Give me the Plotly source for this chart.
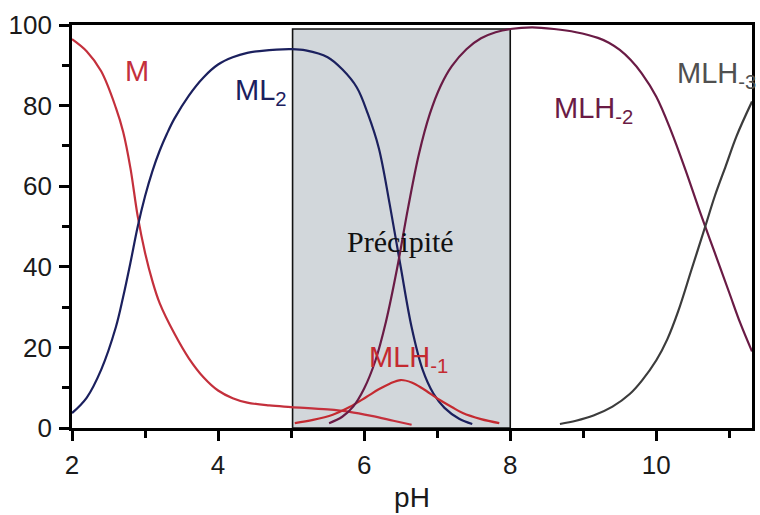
import plotly.graph_objects as go

# ---- data ----
ph_M = [2.0, 2.2, 2.4, 2.6, 2.7, 2.8, 2.9, 3.0, 3.1, 3.2, 3.4, 3.6, 3.8, 4.0, 4.2, 4.4, 4.7, 5.0, 5.5, 5.8, 6.1, 6.4, 6.65]
val_M = [96.5, 93.5, 88.5, 79.5, 73.5, 64.5, 52.5, 43.5, 36.5, 31, 23.5, 17.3, 12.6, 9.3, 7.4, 6.3, 5.6, 5.2, 4.6, 4.0, 3.0, 1.8, 0.8]

ph_ML2 = [2.0, 2.2, 2.4, 2.6, 2.7, 2.8, 2.9, 3.0, 3.1, 3.2, 3.3, 3.4, 3.6, 3.8, 4.0, 4.2, 4.4, 4.6, 4.8, 5.0, 5.2,
          5.5, 5.7, 5.9, 6.05, 6.2, 6.35, 6.5, 6.65, 6.8, 6.95, 7.1, 7.3, 7.48]
val_ML2 = [3.7, 7.5, 14.5, 25, 32.5, 41, 50, 57.5, 63.7, 68.8, 73, 76.7, 82.5, 87, 90.2, 92, 93.1, 93.6, 93.9, 94, 93.7,
           92, 89, 84.5, 78, 69.5, 55.5, 40, 25, 14.5, 8.5, 5, 2.3, 1.0]

ph_MLH1 = [5.05, 5.3, 5.57, 5.8, 6.03, 6.2, 6.35, 6.5, 6.65, 6.8, 7.03, 7.2, 7.35, 7.6, 7.85]
val_MLH1 = [1.2, 2.0, 3.3, 5.2, 7.7, 9.6, 11.0, 11.9, 11.3, 9.8, 7.0, 5.2, 3.7, 2.2, 1.2]

ph_MLH2 = [5.52, 5.7, 5.85, 6.0, 6.15, 6.3, 6.45, 6.6, 6.75, 6.9, 7.05, 7.2, 7.4, 7.6, 7.8, 8.0, 8.3, 8.6, 8.9,
           9.2, 9.35, 9.5, 9.65, 9.8, 10.0, 10.2, 10.4, 10.6, 10.8, 11.0, 11.15, 11.31]
val_MLH2 = [1.2, 2.8, 5.3, 9.8, 16.5, 26.5, 39.5, 54.5, 68, 78, 85, 89.8, 94, 96.7, 98.2, 99, 99.4, 99, 98.2,
            96.8, 95.6, 93.8, 91.3, 88, 82.2, 73.8, 64, 53.5, 43.5, 33.5, 26, 19]

ph_MLH3 = [8.68, 8.9, 9.14, 9.4, 9.64, 9.8, 10.0, 10.15, 10.3, 10.48, 10.67, 10.8, 10.95, 11.1, 11.31]
val_MLH3 = [1.0, 1.8, 3.1, 5.3, 8.5, 11.7, 16.8, 22, 29, 39.2, 50, 57.5, 65, 72.5, 81]

precip_range = [5.02, 8.0]
precip_top = 99

x_ticks = [2, 4, 6, 8, 10]
y_ticks = [0, 20, 40, 60, 80, 100]

C_M = "#c4303c"
C_ML2 = "#1b205e"
C_MLH1 = "#c42a30"
C_MLH2 = "#6a1b45"
C_MLH3 = "#3c3c3c"

fig = go.Figure()

fig.add_shape(type="rect", xref="x", yref="y",
              x0=precip_range[0], x1=precip_range[1], y0=0, y1=precip_top,
              fillcolor="#d2d7db", line=dict(color="#111111", width=1.6), layer="below")

series = [
    (ph_M, val_M, C_M),
    (ph_ML2, val_ML2, C_ML2),
    (ph_MLH1, val_MLH1, C_MLH1),
    (ph_MLH2, val_MLH2, C_MLH2),
    (ph_MLH3, val_MLH3, C_MLH3),
]
for xs, ys, c in series:
    fig.add_trace(go.Scatter(x=xs, y=ys, mode="lines",
                             line=dict(color=c, width=2.2, shape="spline", smoothing=1.0),
                             showlegend=False, hoverinfo="skip"))

lab_font = "Liberation Sans, Arial, sans-serif"
labels = [
    ("M", 2.7, 88.5, C_M),
    ("ML<sub>2</sub>", 4.2, 83.5, C_ML2),
    ("MLH<sub>-2</sub>", 8.57, 79.0, C_MLH2),
    ("MLH<sub>-3</sub>", 10.25, 87.7, "#505050"),
    ("MLH<sub>-1</sub>", 6.04, 17.0, C_MLH1),
]
for t, x, y, c in labels:
    fig.add_annotation(text=t, x=x, y=y, xref="x", yref="y", showarrow=False,
                       xanchor="left", yanchor="middle",
                       font=dict(family=lab_font, size=29, color=c))

fig.add_annotation(text="Précipité", x=6.5, y=46.3, xref="x", yref="y", showarrow=False,
                   xanchor="center", yanchor="middle",
                   font=dict(family="Liberation Serif, Times New Roman, serif", size=30, color="#111111"))

axis_common = dict(showline=True, linewidth=2.8, linecolor="black", mirror=True,
                   ticks="outside", ticklen=10, tickwidth=2.5, tickcolor="black",
                   showgrid=False, zeroline=False,
                   tickfont=dict(family=lab_font, size=26, color="#1a1a1a"))

fig.update_xaxes(range=[2, 11.31], tickvals=x_ticks, **axis_common,
                 minor=dict(dtick=1, tick0=1, ticklen=7, tickwidth=2.5, tickcolor="black", ticks="outside"),
                 title=dict(text="pH", font=dict(family=lab_font, size=28, color="#1a1a1a"), standoff=9),
                 ticklabelstandoff=2)
fig.update_yaxes(range=[0, 100], tickvals=y_ticks, **axis_common,
                 minor=dict(dtick=10, tick0=0, ticklen=7, tickwidth=2.5, tickcolor="black", ticks="outside"),
                 ticklabelstandoff=2)

fig.update_layout(width=760, height=515, margin=dict(l=72, r=8, t=25, b=87, autoexpand=False),
                  paper_bgcolor="white", plot_bgcolor="white")

fig.write_html("out.html", config={"displayModeBar": False},
               post_script="document.body.style.margin='0';document.body.style.overflow='hidden';")
